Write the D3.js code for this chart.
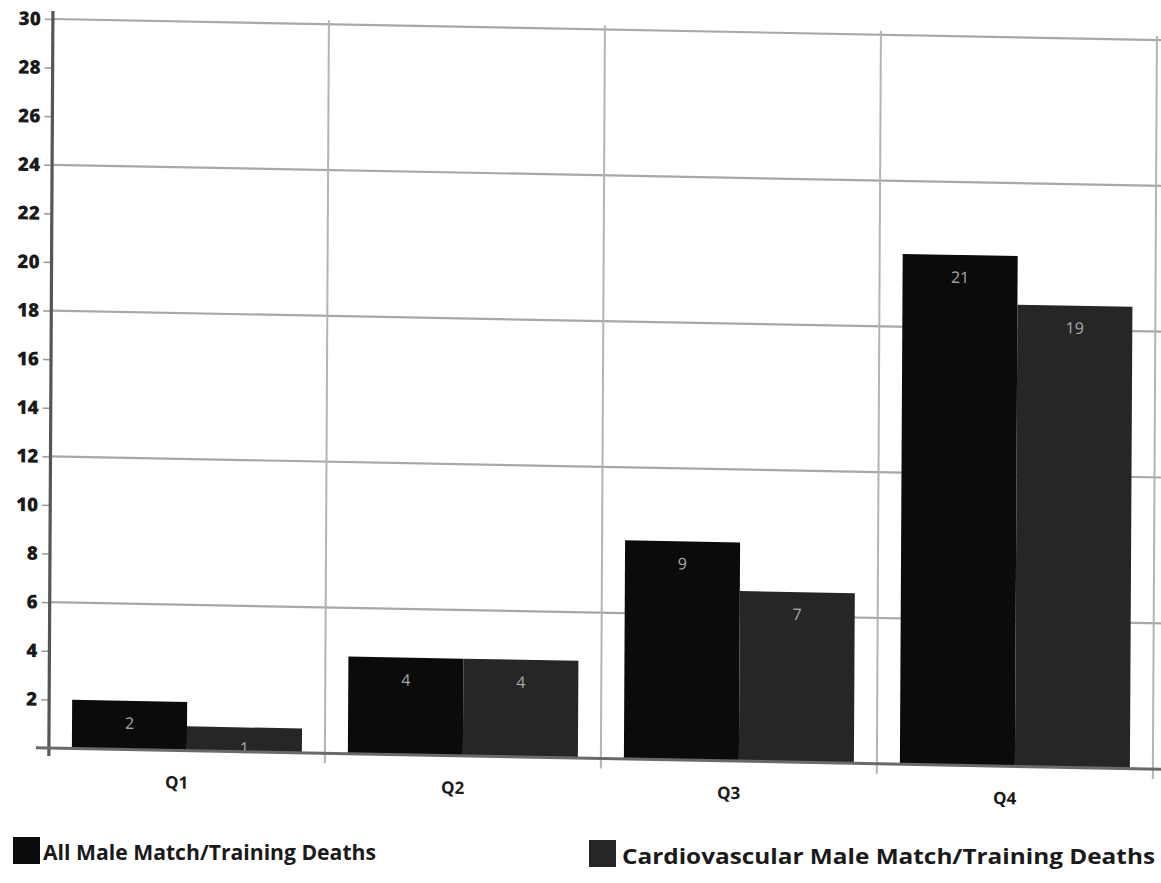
<!DOCTYPE html>
<html>
<head>
<meta charset="utf-8">
<script src="https://cdn.jsdelivr.net/npm/d3@7"></script>
<style>
  html, body { margin: 0; padding: 0; background: #ffffff; }
  svg { display: block; font-family: "Open Sans", "Noto Sans", sans-serif; }
</style>
</head>
<body>
<script>
// ---- data ----
const categories = ["Q1", "Q2", "Q3", "Q4"];
const seriesNames = ["All Male Match/Training Deaths", "Cardiovascular Male Match/Training Deaths"];
const allMaleDeaths = [2, 4, 9, 21];
const cardioDeaths = [1, 4, 7, 19];
const yTickValues = [0, 2, 4, 6, 8, 10, 12, 14, 16, 18, 20, 22, 24, 26, 28, 30];
const gridValues = [6, 12, 18, 24, 30];
const seriesColors = ["#0b0b0b", "#262626"];

const W = 1161, H = 883;
const svg = d3.select("body").append("svg").attr("width", W).attr("height", H);
svg.append("rect").attr("width", W).attr("height", H).attr("fill", "#ffffff");

// slight skew as in the scanned reference
const g = svg.append("g").attr("transform", "matrix(1,0.019,-0.0055,1,0,-1)");

const x0 = d3.scaleBand().domain(categories).range([53, 1157]).padding(0);
const x1 = d3.scaleBand().domain(seriesNames).range([0, x0.bandwidth()]).paddingInner(0).paddingOuter(0.2);
const y = d3.scaleLinear().domain([0, 30]).range([748, 19]);

// horizontal gridlines
g.append("g").selectAll("line").data(gridValues).join("line")
  .attr("x1", 53).attr("x2", 1175)
  .attr("y1", d => y(d)).attr("y2", d => y(d))
  .attr("stroke", "#a8a8a8").attr("stroke-width", 2.2);

// vertical gridlines at band boundaries
const vBounds = categories.slice(1).map(c => x0(c)).concat([x0.range()[1]]);
g.append("g").selectAll("line").data(vBounds).join("line")
  .attr("x1", d => d).attr("x2", d => d)
  .attr("y1", y(30) - 4).attr("y2", y(0) + 10)
  .attr("stroke", "#b4b4b4").attr("stroke-width", 2);

// bars
const rows = categories.map((c, i) => ({ cat: c, vals: [allMaleDeaths[i], cardioDeaths[i]] }));
const groups = g.append("g").selectAll("g").data(rows).join("g")
  .attr("transform", d => `translate(${x0(d.cat)},0)`);
groups.selectAll("rect").data(d => d.vals.map((v, j) => ({ s: seriesNames[j], v, j })))
  .join("rect")
  .attr("x", d => x1(d.s))
  .attr("width", x1.bandwidth())
  .attr("y", d => y(d.v))
  .attr("height", d => y(0) - y(d.v))
  .attr("fill", d => seriesColors[d.j]);
groups.selectAll("text").data(d => d.vals.map((v, j) => ({ s: seriesNames[j], v, j })))
  .join("text")
  .attr("x", d => x1(d.s) + x1.bandwidth() / 2)
  .attr("y", d => Math.min(y(d.v) + 28, y(0) + 2))
  .attr("text-anchor", "middle")
  .attr("font-size", 16)
  .attr("fill", "#a9a9a9")
  .text(d => d.v);

// y axis
const yAxis = g.append("g").attr("transform", "translate(53,0)")
  .call(d3.axisLeft(y).tickValues(yTickValues).tickSize(8).tickPadding(4)
    .tickFormat(d => d === 0 ? "" : d));
yAxis.select(".domain").remove();
yAxis.selectAll(".tick line").attr("stroke", "#999").attr("stroke-width", 1.5);
yAxis.selectAll(".tick text")
  .attr("font-size", 19).attr("font-weight", 800).attr("fill", "#1a1a1a")
  .attr("font-family", "'Open Sans', sans-serif");
g.append("line").attr("x1", 53).attr("x2", 53).attr("y1", y(30) - 8).attr("y2", y(0) + 8)
  .attr("stroke", "#555").attr("stroke-width", 3.2);

// x baseline + category labels
const xAxis = g.append("g").attr("transform", `translate(0,${y(0)})`)
  .call(d3.axisBottom(x0).tickSize(0).tickPadding(26));
xAxis.select(".domain").remove();
xAxis.selectAll(".tick text")
  .attr("x", -10)
  .attr("font-size", 17).attr("font-weight", 700).attr("fill", "#1a1a1a")
  .attr("font-family", "'Open Sans', sans-serif");
g.append("line").attr("x1", 40).attr("x2", 1175).attr("y1", y(0)).attr("y2", y(0))
  .attr("stroke", "#6a6a6a").attr("stroke-width", 3);

// legend
const legendPos = [
  { sx: 13, sy: 837, tx: 43, ty: 860, len: 333 },
  { sx: 589, sy: 840, tx: 622, ty: 864, len: 533 }
];
const legend = svg.append("g").selectAll("g").data(seriesNames).join("g");
legend.append("rect")
  .attr("x", (d, i) => legendPos[i].sx).attr("y", (d, i) => legendPos[i].sy)
  .attr("width", 27).attr("height", 27)
  .attr("fill", (d, i) => seriesColors[i]);
legend.append("text")
  .attr("x", (d, i) => legendPos[i].tx).attr("y", (d, i) => legendPos[i].ty)
  .attr("font-size", 22).attr("font-weight", 700).attr("fill", "#1a1a1a")
  .attr("textLength", (d, i) => legendPos[i].len).attr("lengthAdjust", "spacingAndGlyphs")
  .text(d => d);
</script>
</body>
</html>
